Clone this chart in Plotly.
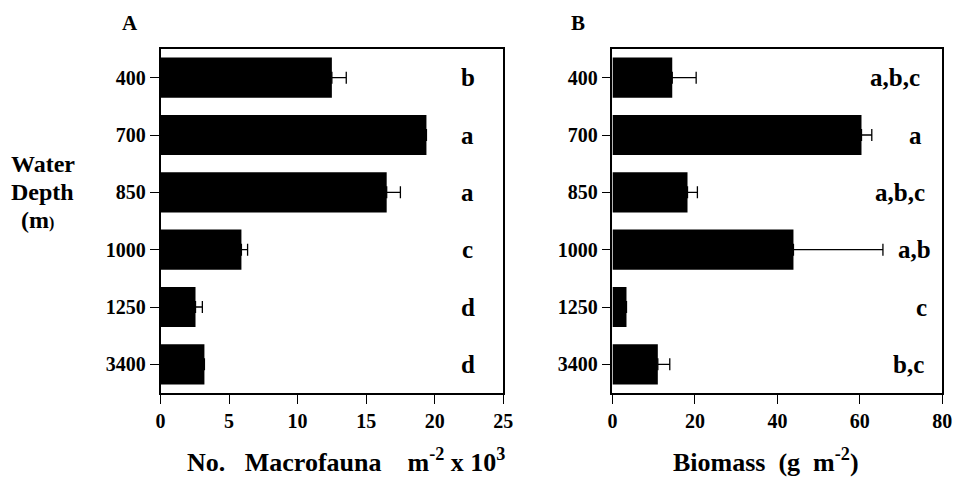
import plotly.graph_objects as go

depths = ["400", "700", "850", "1000", "1250", "3400"]
macrofauna = [12.5, 19.4, 16.5, 5.9, 2.55, 3.2]
macrofauna_se = [1.05, 0.0, 1.0, 0.45, 0.5, 0.0]
macro_letters = ["b", "a", "a", "c", "d", "d"]
biomass = [14.5, 60.4, 18.2, 43.9, 3.4, 11.0]
biomass_se = [5.8, 2.5, 2.4, 21.7, 0.0, 2.9]
biomass_letters = ["a,b,c", "a", "a,b,c", "a,b", "c", "b,c"]
macro_ticks = [0, 5, 10, 15, 20, 25]
biomass_ticks = [0, 20, 40, 60, 80]

FONT = "Liberation Serif"
W, H = 971, 478
pos = list(range(len(depths)))

def px(x):
    return x / W

def py(y):
    return 1 - y / H

fig = go.Figure()

fig.add_trace(go.Bar(
    x=macrofauna, y=pos, orientation="h", width=0.7,
    marker=dict(color="black", line=dict(width=0)),
    error_x=dict(type="data", symmetric=False, array=macrofauna_se,
                 arrayminus=[0] * len(depths), color="black", thickness=1.3, width=6),
    xaxis="x", yaxis="y", showlegend=False,
))
fig.add_trace(go.Bar(
    x=biomass, y=pos, orientation="h", width=0.7,
    marker=dict(color="black", line=dict(width=0)),
    error_x=dict(type="data", symmetric=False, array=biomass_se,
                 arrayminus=[0] * len(depths), color="black", thickness=1.3, width=6),
    xaxis="x2", yaxis="y2", showlegend=False,
))

ydom = [py(393), py(49)]
axis_common = dict(
    showline=True, linecolor="black", linewidth=1.5, mirror=True,
    ticks="outside", ticklen=9, tickwidth=1.3, tickcolor="black",
    showgrid=False, zeroline=False,
    tickfont=dict(family=FONT, size=20, color="black"),
)

fig.update_layout(
    width=W, height=H,
    margin=dict(l=0, r=0, t=0, b=0, pad=0),
    paper_bgcolor="white", plot_bgcolor="white",
    xaxis=dict(domain=[px(158), px(506)], range=[0, 25], tickvals=macro_ticks,
               ticktext=[f"<b>{v}</b>" for v in macro_ticks], anchor="y", **axis_common),
    yaxis=dict(domain=ydom, range=[len(depths) - 0.5, -0.5], tickvals=pos,
               ticktext=[f"<b>{d}</b>" for d in depths], anchor="x", **axis_common),
    xaxis2=dict(domain=[px(617), px(952)], range=[0, 80], tickvals=biomass_ticks,
                ticktext=[f"<b>{v}</b>" for v in biomass_ticks], anchor="y2", **axis_common),
    yaxis2=dict(domain=ydom, range=[len(depths) - 0.5, -0.5], tickvals=pos,
                ticktext=[f"<b>{d}</b>" for d in depths], anchor="x2", **axis_common),
)

ann = []
for p, l in zip(pos, macro_letters):
    ann.append(dict(x=22.4, y=p, xref="x", yref="y", text=f"<b>{l}</b>", showarrow=False,
                    xanchor="center", font=dict(family=FONT, size=25, color="black")))
b_pos = [68.6, 73.6, 69.8, 73.2, 75.0, 71.9]
for p, l, xp in zip(pos, biomass_letters, b_pos):
    ann.append(dict(x=xp, y=p, xref="x2", yref="y2", text=f"<b>{l}</b>", showarrow=False,
                    xanchor="center", font=dict(family=FONT, size=25, color="black")))

def label(text, x, y, size, xanchor="center"):
    ann.append(dict(x=px(x), y=py(y), xref="paper", yref="paper", text=text,
                    showarrow=False, xanchor=xanchor, yanchor="middle",
                    font=dict(family=FONT, size=size, color="black")))

label("<b>A</b>", 127, 23, 21)
label("<b>B</b>", 582, 23, 21)
label("<b>Water</b>", 4, 164, 24, "left")
label("<b>Depth</b>", 4, 192, 24, "left")
label("<b>(m</b><span style='font-size:16px'><b>)</b></span>", 14, 220, 24, "left")
label("<b>No.   Macrofauna    m<sup>-2</sup> x 10<sup>3</sup></b>", 346, 460, 26)
label("<b>Biomass  (g  m<sup>-2</sup>)</b>", 773, 460, 26)

fig.update_layout(annotations=ann)
fig.write_html("out.html")
